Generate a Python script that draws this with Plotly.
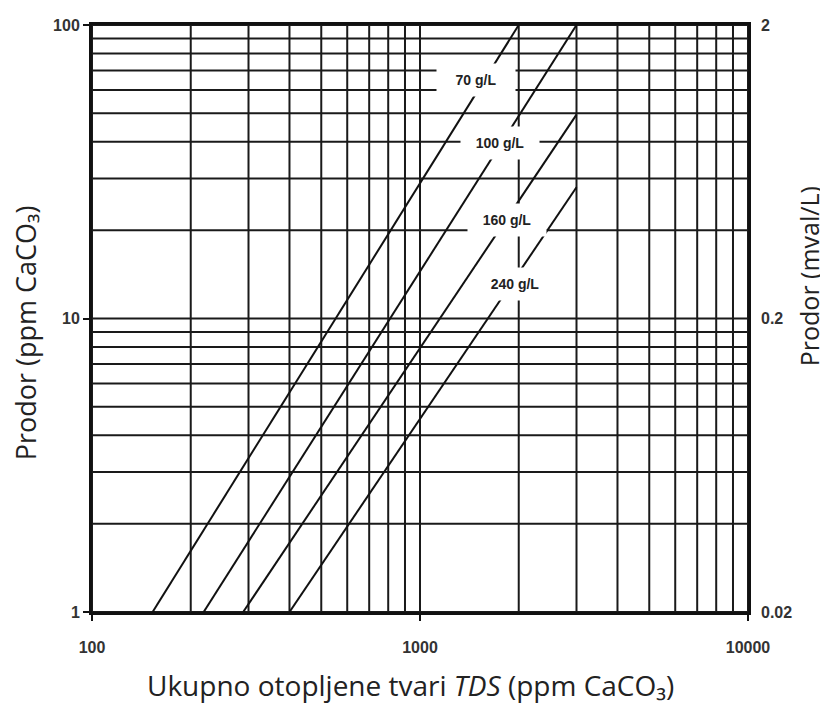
import numpy as np
import plotly.graph_objects as go

# TDS (ppm CaCO3) vs leakage (ppm CaCO3), one line per regenerant dose
tds_70 = [153, 2000]
prodor_70 = [1, 100]
tds_100 = [219, 3000]
prodor_100 = [1, 100]
tds_160 = [289, 3000]
prodor_160 = [1, 49.5]
tds_240 = [400, 3000]
prodor_240 = [1, 28]

labels = ["70 g/L", "100 g/L", "160 g/L", "240 g/L"]
label_x = [1480, 1750, 1840, 1950]
label_y = [65, 39.6, 21.7, 13.1]

x_ticks = [100, 1000, 10000]
y_ticks = [1, 10, 100]
y2_ticks = [0.02, 0.2, 2]

series = [(tds_70, prodor_70), (tds_100, prodor_100),
          (tds_160, prodor_160), (tds_240, prodor_240)]

fig = go.Figure()
for (xs, ys), name in zip(series, labels):
    fig.add_trace(go.Scatter(x=xs, y=ys, mode="lines", name=name,
                             line=dict(color="#111", width=2),
                             showlegend=False, hoverinfo="skip"))
# dummy trace for the right-hand axis
fig.add_trace(go.Scatter(x=[100, 10000], y=[0.02, 2], yaxis="y2",
                         mode="markers", marker=dict(opacity=0),
                         showlegend=False, hoverinfo="skip"))

grid_x = [m * 10 ** e for e in (2, 3) for m in range(1, 10)] + [10000]
grid_y = [m * 10 ** e for e in (0, 1) for m in range(1, 10)] + [100]

narrow = "Liberation Sans Narrow, Liberation Sans, Arial"
tickfont = dict(family=narrow, size=16, color="#333", weight="bold")

# page body adds an 8px offset, so the figure is 8px smaller than the window
fig.update_layout(
    width=820, height=701,
    margin=dict(l=84, r=80, t=17, b=97, autoexpand=False),
    plot_bgcolor="white", paper_bgcolor="white",
    xaxis=dict(type="log", range=[2, 4], tickvals=x_ticks,
               ticktext=[str(v) for v in x_ticks],
               showgrid=False, zeroline=False,
               showline=True, linecolor="#111", linewidth=3, mirror=True,
               ticks="outside", ticklen=6, tickwidth=2, tickcolor="#111",
               tickfont=tickfont, ticklabelstandoff=13),
    yaxis=dict(type="log", range=[0, 2], tickvals=y_ticks,
               ticktext=[str(v) for v in y_ticks],
               showgrid=False, zeroline=False,
               showline=True, linecolor="#111", linewidth=3, mirror=True,
               ticks="outside", ticklen=6, tickwidth=2, tickcolor="#111",
               tickfont=tickfont),
    yaxis2=dict(type="log", range=[np.log10(0.02), np.log10(2)],
                overlaying="y", side="right", tickvals=y2_ticks,
                ticktext=["0.02", "0.2", "2"], showgrid=False,
                zeroline=False, showline=False, ticks="",
                tickfont=tickfont, ticklabelstandoff=12),
)

shapes = []
for gx in grid_x:
    shapes.append(dict(type="line", xref="x", yref="paper", x0=gx, x1=gx,
                       y0=0, y1=1, layer="below",
                       line=dict(color="#1a1a1a", width=2)))
for gy in grid_y:
    shapes.append(dict(type="line", xref="paper", yref="y", x0=0, x1=1,
                       y0=gy, y1=gy, layer="below",
                       line=dict(color="#1a1a1a", width=2)))
fig.update_layout(shapes=shapes)

for txt, lx, ly in zip(labels, label_x, label_y):
    fig.add_annotation(x=np.log10(lx), y=np.log10(ly), xref="x", yref="y",
                       text=txt, showarrow=False, bgcolor="white",
                       width=76, height=30,
                       font=dict(family=narrow, size=14, color="#222",
                                 weight="bold"))

title_font = dict(family="Open Sans, Noto Sans, sans-serif", size=27, color="#222")
fig.add_annotation(text="Prodor (ppm CaCO₃)", xref="paper", yref="paper",
                   x=-0.102, y=0.475, xanchor="center", yanchor="middle",
                   textangle=-90, showarrow=False, font=title_font)
fig.add_annotation(text="Prodor (mval/L)", xref="paper", yref="paper",
                   x=1.093, y=0.572, xanchor="center", yanchor="middle",
                   textangle=-90, showarrow=False, font=dict(title_font, size=25))
fig.add_annotation(text="Ukupno otopljene tvari <i>TDS</i> (ppm CaCO₃)",
                   xref="paper", yref="paper", x=0.485, y=-0.124,
                   xanchor="center", yanchor="middle",
                   showarrow=False, font=dict(title_font, size=28))

fig.write_html("out.html")
